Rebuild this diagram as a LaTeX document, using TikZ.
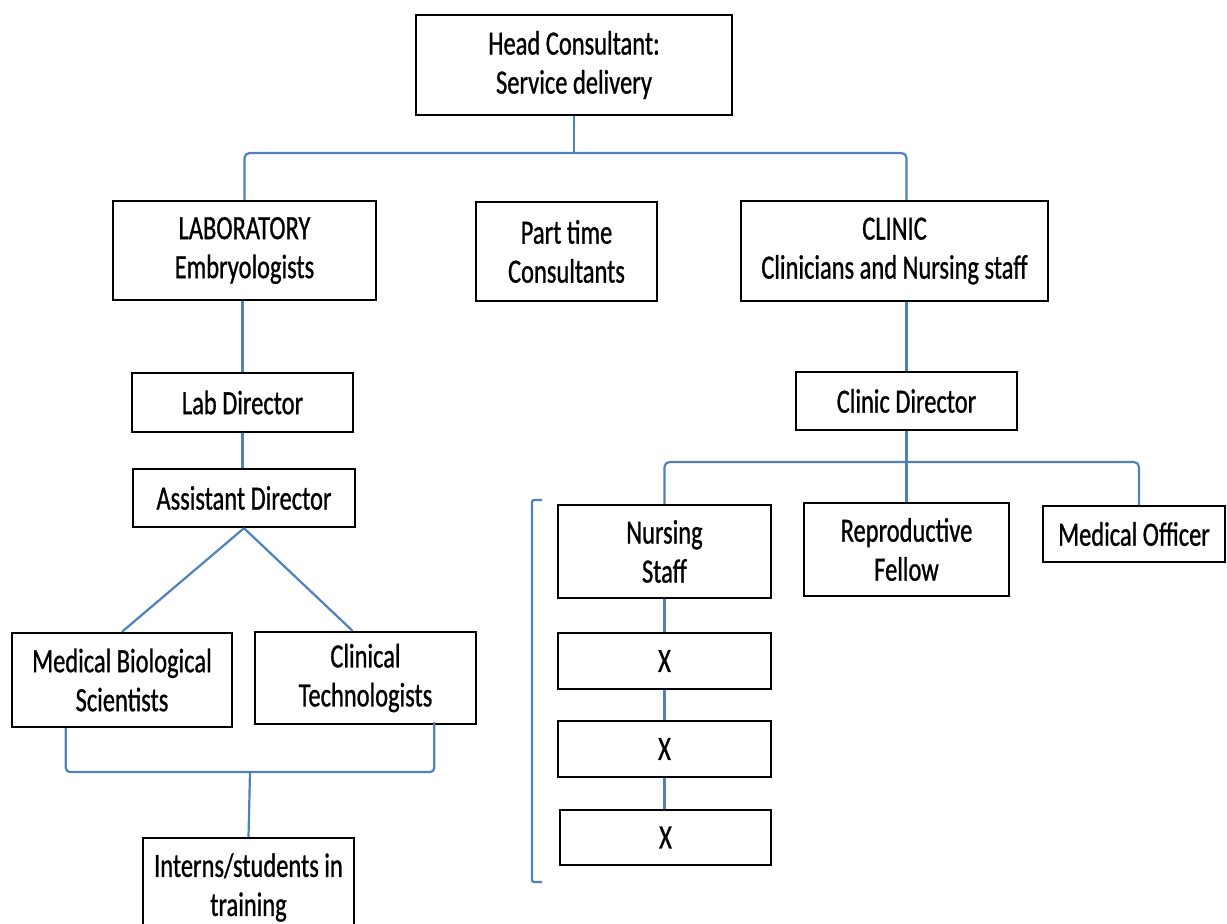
\documentclass[tikz,border=0pt]{standalone}
\usepackage{fontspec}
\setmainfont{Carlito}[FakeStretch=0.72,FakeBold=0.8]
\usetikzlibrary{calc}
\definecolor{linkblue}{RGB}{79,129,189}
\begin{document}
\begin{tikzpicture}[x=1pt,y=-1pt,
  box/.style={draw=black, line width=2.4pt, inner sep=0pt, align=center,
    font=\fontsize{34}{39}\selectfont, text=black},
  conn/.style={draw=linkblue, line width=2.2pt}]
\useasboundingbox (0,0) rectangle (1227,924);
\clip (0,0) rectangle (1227,924);
\fill[white] (0,0) rectangle (1227,924);

% top level
\node[box, minimum width=316, minimum height=100] (head) at (574,65) {Head Consultant:\\Service delivery};

% second level
\node[box, minimum width=263, minimum height=99] (lab) at (244.5,250.5) {LABORATORY\\Embryologists};
\node[box, minimum width=181, minimum height=99] (part) at (566.5,251.5) {Part time\\Consultants};
\node[box, minimum width=307, minimum height=100] (clinic) at (894.5,251) {CLINIC\\Clinicians and Nursing staff};

% laboratory branch
\node[box, minimum width=221, minimum height=59] (labdir) at (242.5,402.5) {Lab Director};
\node[box, minimum width=222, minimum height=58] (asst) at (244,498) {Assistant Director};
\node[box, minimum width=220, minimum height=94] (mbs) at (122,680) {Medical Biological\\Scientists};
\node[box, minimum width=221, minimum height=92] (ct) at (365.5,678) {Clinical\\Technologists};
\node[box, minimum width=211, minimum height=99] (interns) at (248.5,887.5) {Interns/students in\\training};

% clinic branch
\node[box, minimum width=221, minimum height=58] (cdir) at (906.5,401) {Clinic Director};
\node[box, minimum width=213, minimum height=93] (nurse) at (664.5,551.5) {Nursing\\Staff};
\node[box, minimum width=205, minimum height=93] (repro) at (906.5,549.5) {Reproductive\\Fellow};
\node[box, minimum width=182, minimum height=56] (medoff) at (1134,534) {Medical Officer};
\node[box, minimum width=213, minimum height=56] (x1) at (664.5,661) {X};
\node[box, minimum width=213, minimum height=56] (x2) at (664.5,749) {X};
\node[box, minimum width=211, minimum height=55] (x3) at (665.5,837.5) {X};

% bus lines
\coordinate (topbus) at (574,153);
\coordinate (lowbus) at (250,772);
\coordinate (clbus) at (906.5,462);

\draw[conn] (head.south) -- (topbus);
\draw[conn, rounded corners=5pt] (lab.north) |- (topbus) -| (cdir.north |- clinic.north);

\draw[conn] (labdir.north |- lab.south) -- (labdir.north);
\draw[conn] (labdir.south) -- (labdir.south |- asst.north);
\draw[conn] (asst.south) -- (mbs.north);
\draw[conn] (asst.south) -- ([xshift=-13pt]ct.north);
\draw[conn, rounded corners=4pt] ([xshift=55pt]mbs.south west) |- (lowbus) -| ([xshift=-43pt,yshift=3pt]ct.south east);
\draw[conn] (lowbus) -- (interns.north);

\draw[conn] (cdir.north |- clinic.south) -- (cdir.north);
\draw[conn] (cdir.south) -- (repro.north);
\draw[conn, rounded corners=5pt] (nurse.north) |- (clbus) -| ([xshift=5pt]medoff.north);
\draw[conn] (nurse.south) -- (nurse.south |- x1.north);
\draw[conn] (x1.south) -- (x1.south |- x2.north);
\draw[conn] (x2.south) -- (x2.south |- x3.north);

% bracket grouping the nursing column
\coordinate (brtop) at (542,500);
\coordinate (brbot) at (542,882);
\draw[conn, rounded corners=2pt] (brtop) -- ++(-10,0) -- ($(brbot)+(-10,0)$) -- (brbot);
\end{tikzpicture}
\end{document}
